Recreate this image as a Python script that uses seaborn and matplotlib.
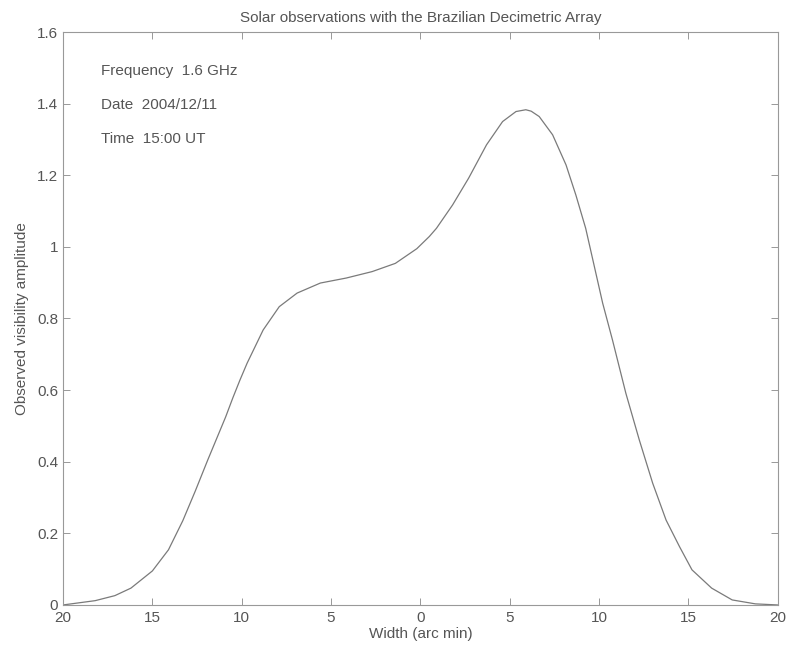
import numpy as np
import pandas as pd
import matplotlib
matplotlib.use("Agg")
import matplotlib.pyplot as plt
import seaborn as sns

# values
width_arcmin = [-20.0, -18.2, -17.1, -16.2, -15.0, -14.1, -13.3, -12.6, -11.9, -10.9,
                -10.5, -10.1, -9.7, -8.8, -7.9, -6.9, -5.6, -4.15, -2.7, -1.4,
                -0.2, 0.5, 0.9, 1.8, 2.7, 3.7, 4.6, 5.35, 5.9, 6.2,
                6.65, 7.4, 8.15, 8.7, 9.25, 9.65, 10.2, 10.75, 11.5, 12.25,
                13.0, 13.75, 14.5, 15.2, 16.3, 17.45, 18.75, 20.0]
amplitude = [0.0, 0.012, 0.026, 0.047, 0.095, 0.154, 0.235, 0.318, 0.405, 0.525,
             0.578, 0.628, 0.675, 0.768, 0.833, 0.871, 0.899, 0.913, 0.931, 0.954,
             0.995, 1.029, 1.052, 1.117, 1.192, 1.285, 1.350, 1.378, 1.383, 1.379,
             1.364, 1.313, 1.229, 1.145, 1.052, 0.964, 0.843, 0.740, 0.591, 0.461,
             0.340, 0.237, 0.163, 0.098, 0.047, 0.014, 0.003, 0.0]

x_ticks = [-20, -15, -10, -5, 0, 5, 10, 15, 20]
x_tick_labels = ["20", "15", "10", "5", "0", "5", "10", "15", "20"]
y_ticks = [0, 0.2, 0.4, 0.6, 0.8, 1.0, 1.2, 1.4, 1.6]
y_tick_labels = ["0", "0.2", "0.4", "0.6", "0.8", "1", "1.2", "1.4", "1.6"]
info_lines = ["Frequency  1.6 GHz", "Date  2004/12/11", "Time  15:00 UT"]
info_y = [1.49, 1.395, 1.30]

df = pd.DataFrame({"width": width_arcmin, "amp": amplitude})

sns.set_style("white")
plt.rcParams['font.family'] = ['Liberation Sans', 'DejaVu Sans']
text_col = "#555555"

fig = plt.figure(figsize=(7.88, 6.54), dpi=100)
ax = fig.add_axes([0.080, 0.075, 0.907, 0.876])

sns.lineplot(data=df, x="width", y="amp", ax=ax, color="#7a7a7a", linewidth=0.9)

ax.set_xlim(-20, 20)
ax.set_ylim(0, 1.6)
ax.set_xticks(x_ticks)
ax.set_xticklabels(x_tick_labels)
ax.set_yticks(y_ticks)
ax.set_yticklabels(y_tick_labels)
ax.tick_params(direction="in", length=5, width=0.6, colors="#888888",
               labelcolor=text_col, labelsize=11, top=True, right=True,
               bottom=True, left=True)
ax.tick_params(axis="x", pad=4)
for s in ax.spines.values():
    s.set_color("#999999")
    s.set_linewidth(0.8)

ax.set_xlabel("Width (arc min)", fontsize=11, color=text_col, labelpad=2)
ax.set_ylabel("Observed visibility amplitude", fontsize=11, color=text_col, labelpad=6)
ax.set_title("Solar observations with the Brazilian Decimetric Array",
             fontsize=11, color=text_col, pad=7)

for line, yy in zip(info_lines, info_y):
    ax.text(-17.9, yy, line, fontsize=11, color=text_col, va="center", ha="left")

fig.savefig("out.png", dpi=100)
